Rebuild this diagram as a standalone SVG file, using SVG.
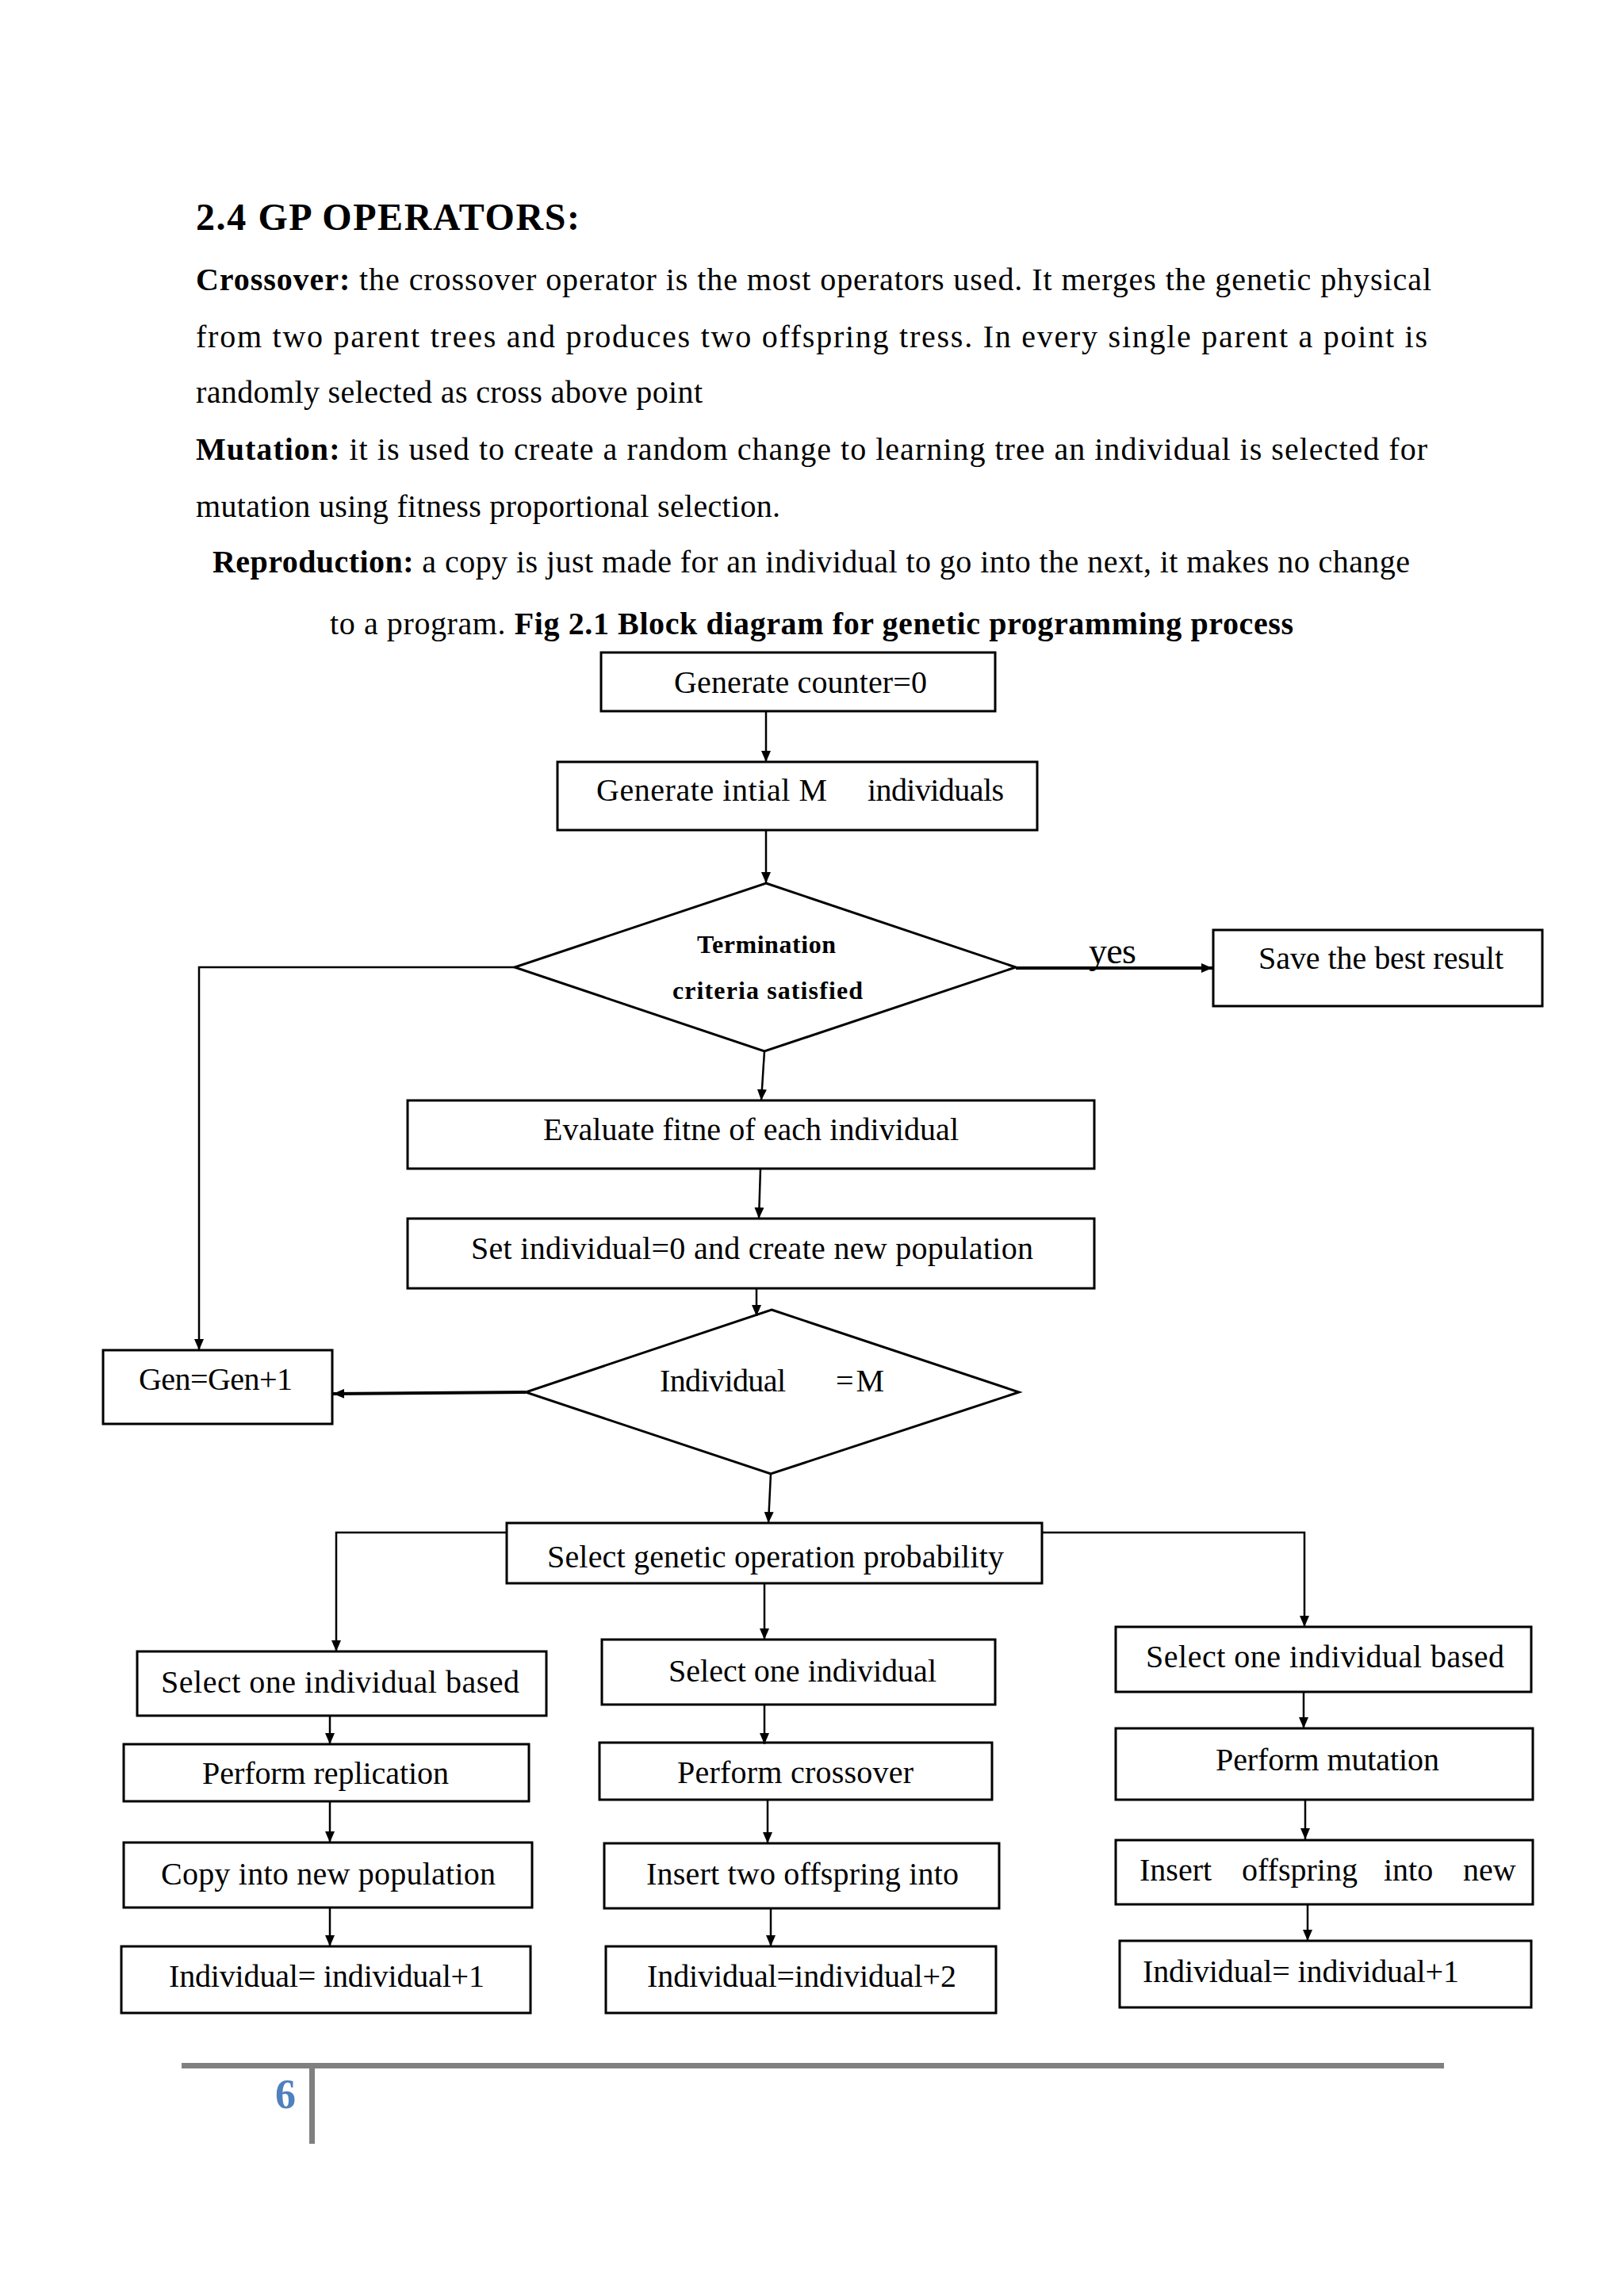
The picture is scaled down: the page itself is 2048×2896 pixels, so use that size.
<svg xmlns="http://www.w3.org/2000/svg" width="2048" height="2896" viewBox="0 0 2048 2896">
<defs>
<style>
.box{fill:#fff;stroke:#000;stroke-width:3}
.t{font-family:"Liberation Serif","Times New Roman",serif;font-size:40px;fill:#000}
.b{font-weight:bold}
.h{font-size:48px}
.s{font-size:32px}
.y{font-size:46px}
.conn{fill:none;stroke:#000;stroke-width:2.5}
.thick{stroke-width:4}
</style>
<marker id="ah" markerUnits="userSpaceOnUse" markerWidth="14" markerHeight="12" refX="14" refY="6" orient="auto">
<path d="M0,0 L14,6 L0,12 z" fill="#000"/>
</marker>
</defs>
<rect x="0" y="0" width="2048" height="2896" fill="#fff"/>

<g id="text-body">
<text class="t b h" x="247" y="290" textLength="484" lengthAdjust="spacing">2.4 GP OPERATORS:</text>
<text class="t" x="247" y="366" textLength="1558" lengthAdjust="spacing"><tspan class="b">Crossover:</tspan> the crossover operator is the most operators used. It merges the genetic physical</text>
<text class="t" x="247" y="438" textLength="1553" lengthAdjust="spacing">from two parent trees and produces two offspring tress. In every single parent a point is</text>
<text class="t" x="247" y="508" textLength="639" lengthAdjust="spacing">randomly  selected  as cross above point</text>
<text class="t" x="247" y="580" textLength="1553" lengthAdjust="spacing"><tspan class="b">Mutation:</tspan> it is used to create a random change to learning tree an individual is selected for</text>
<text class="t" x="247" y="652" textLength="737" lengthAdjust="spacing">mutation  using  fitness  proportional  selection.</text>
<text class="t" x="268" y="722" textLength="1510" lengthAdjust="spacing"><tspan class="b">Reproduction:</tspan>  a copy is just made for an individual  to go into the next, it makes no change</text>
<text class="t" x="416" y="800" textLength="1215" lengthAdjust="spacing">to a program. <tspan class="b">Fig 2.1 Block diagram  for genetic programming  process</tspan></text>
</g>

<g id="n-gen-counter">
<rect class="box" x="758" y="823" width="497" height="74"/>
<text class="t" x="850" y="874" textLength="319" lengthAdjust="spacing">Generate  counter=0</text>
</g>
<g id="n-gen-init">
<rect class="box" x="703" y="961" width="605" height="86"/>
<text class="t" x="752" y="1010" textLength="291" lengthAdjust="spacing">Generate  intial  M</text>
<text class="t" x="1094" y="1010" textLength="172" lengthAdjust="spacing">individuals</text>
</g>
<g id="n-termination">
<polygon class="box" points="966,1114 1281,1220 964,1326 649,1220"/>
<text class="t b s" x="879" y="1202" textLength="175" lengthAdjust="spacing">Termination</text>
<text class="t b s" x="848" y="1260" textLength="240" lengthAdjust="spacing">criteria satisfied</text>
</g>
<g id="n-save">
<rect class="box" x="1530" y="1173" width="415" height="96"/>
<text class="t" x="1587" y="1222" textLength="309" lengthAdjust="spacing">Save the best result</text>
</g>
<g id="n-evaluate">
<rect class="box" x="514" y="1388" width="866" height="86"/>
<text class="t" x="685" y="1438" textLength="524" lengthAdjust="spacing">Evaluate  fitne  of each individual</text>
</g>
<g id="n-set">
<rect class="box" x="514" y="1537" width="866" height="88"/>
<text class="t" x="594" y="1588" textLength="709" lengthAdjust="spacing">Set individual=0  and  create new population</text>
</g>
<g id="n-gen">
<rect class="box" x="130" y="1703" width="289" height="93"/>
<text class="t" x="175" y="1753" textLength="194" lengthAdjust="spacing">Gen=Gen+1</text>
</g>
<g id="n-individual-m">
<polygon class="box" points="973,1652 1285,1756 972,1859 663,1756"/>
<text class="t" x="832" y="1755" textLength="159" lengthAdjust="spacing">Individual</text>
<text class="t" x="1054" y="1755" textLength="61" lengthAdjust="spacing">=M</text>
</g>
<g id="n-select-op">
<rect class="box" x="639" y="1921" width="675" height="76"/>
<text class="t" x="690" y="1977" textLength="576" lengthAdjust="spacing">Select genetic  operation  probability</text>
</g>

<g id="n-l1">
<rect class="box" x="173" y="2083" width="516" height="81"/>
<text class="t" x="203" y="2135" textLength="452" lengthAdjust="spacing">Select one individual  based</text>
</g>
<g id="n-l2">
<rect class="box" x="156" y="2200" width="511" height="72"/>
<text class="t" x="255" y="2250" textLength="311" lengthAdjust="spacing">Perform replication</text>
</g>
<g id="n-l3">
<rect class="box" x="156" y="2324" width="515" height="82"/>
<text class="t" x="203" y="2377" textLength="422" lengthAdjust="spacing">Copy into  new population</text>
</g>
<g id="n-l4">
<rect class="box" x="153" y="2455" width="516" height="84"/>
<text class="t" x="213" y="2506" textLength="398" lengthAdjust="spacing">Individual=  individual+1</text>
</g>

<g id="n-m1">
<rect class="box" x="759" y="2068" width="496" height="82"/>
<text class="t" x="843" y="2121" textLength="338" lengthAdjust="spacing">Select one individual</text>
</g>
<g id="n-m2">
<rect class="box" x="756" y="2198" width="495" height="72"/>
<text class="t" x="854" y="2249" textLength="298" lengthAdjust="spacing">Perform  crossover</text>
</g>
<g id="n-m3">
<rect class="box" x="762" y="2325" width="498" height="82"/>
<text class="t" x="815" y="2377" textLength="394" lengthAdjust="spacing">Insert two offspring  into</text>
</g>
<g id="n-m4">
<rect class="box" x="764" y="2455" width="492" height="84"/>
<text class="t" x="816" y="2506" textLength="390" lengthAdjust="spacing">Individual=individual+2</text>
</g>

<g id="n-r1">
<rect class="box" x="1407" y="2052" width="524" height="82"/>
<text class="t" x="1445" y="2103" textLength="452" lengthAdjust="spacing">Select one individual  based</text>
</g>
<g id="n-r2">
<rect class="box" x="1407" y="2180" width="526" height="90"/>
<text class="t" x="1533" y="2233" textLength="282" lengthAdjust="spacing">Perform mutation</text>
</g>
<g id="n-r3">
<rect class="box" x="1407" y="2321" width="526" height="81"/>
<text class="t" y="2372"><tspan x="1437">Insert</tspan><tspan x="1566">offspring</tspan><tspan x="1745">into</tspan><tspan x="1845">new</tspan></text>
</g>
<g id="n-r4">
<rect class="box" x="1412" y="2448" width="519" height="84"/>
<text class="t" x="1441" y="2500" textLength="399" lengthAdjust="spacing">Individual=  individual+1</text>
</g>

<g id="connectors">
<path class="conn" d="M966,897 L966,961" marker-end="url(#ah)"/>
<path class="conn" d="M966,1047 L966,1114" marker-end="url(#ah)"/>
<path class="conn" d="M649,1220 L251,1220 L251,1703" marker-end="url(#ah)"/>
<path class="conn thick" d="M1281,1221 L1529,1221" marker-end="url(#ah)"/>
<text class="t y" x="1373" y="1215" textLength="60" lengthAdjust="spacing">yes</text>
<path class="conn" d="M964,1326 L960,1388" marker-end="url(#ah)"/>
<path class="conn" d="M959,1474 L957,1537" marker-end="url(#ah)"/>
<path class="conn" d="M954,1625 L954,1660" marker-end="url(#ah)"/>
<path class="conn thick" d="M663,1756 L420,1758" marker-end="url(#ah)"/>
<path class="conn" d="M972,1859 L969,1921" marker-end="url(#ah)"/>
<path class="conn" d="M639,1933 L424,1933 L424,2083" marker-end="url(#ah)"/>
<path class="conn" d="M1314,1933 L1645,1933 L1645,2052" marker-end="url(#ah)"/>
<path class="conn" d="M964,1997 L964,2068" marker-end="url(#ah)"/>
<path class="conn" d="M416,2164 L416,2200" marker-end="url(#ah)"/>
<path class="conn" d="M416,2272 L416,2324" marker-end="url(#ah)"/>
<path class="conn" d="M416,2406 L416,2455" marker-end="url(#ah)"/>
<path class="conn" d="M964,2150 L964,2200" marker-end="url(#ah)"/>
<path class="conn" d="M968,2270 L968,2325" marker-end="url(#ah)"/>
<path class="conn" d="M972,2407 L972,2455" marker-end="url(#ah)"/>
<path class="conn" d="M1644,2134 L1644,2180" marker-end="url(#ah)"/>
<path class="conn" d="M1646,2270 L1646,2320" marker-end="url(#ah)"/>
<path class="conn" d="M1649,2402 L1649,2448" marker-end="url(#ah)"/>
</g>

<g id="footer">
<line x1="229" y1="2605.5" x2="1821" y2="2605.5" stroke="#808080" stroke-width="7"/>
<line x1="393.5" y1="2605" x2="393.5" y2="2704" stroke="#808080" stroke-width="7"/>
<text x="347" y="2659" font-family="'Liberation Serif','Times New Roman',serif" font-weight="bold" font-size="52" fill="#4f81bd">6</text>
</g>
</svg>
